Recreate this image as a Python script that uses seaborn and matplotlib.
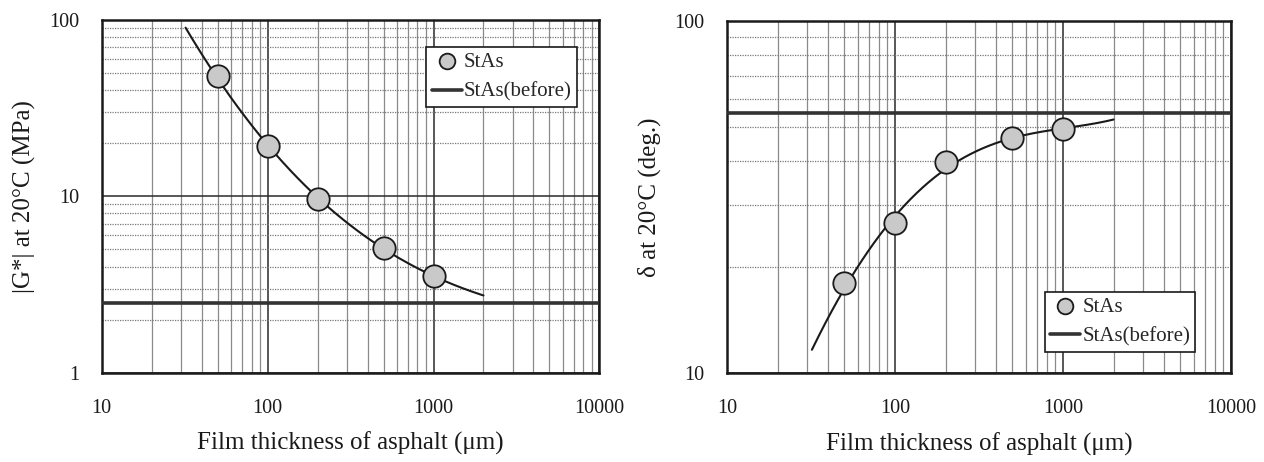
import numpy as np
import pandas as pd
import matplotlib
matplotlib.use("Agg")
import matplotlib.pyplot as plt
from matplotlib.ticker import LogLocator, FixedLocator, FixedFormatter, NullFormatter
import seaborn as sns

# Measured film thickness (um)
thickness = [50, 100, 200, 500, 1000]
# |G*| at 20 C (MPa)
g_star = [48.4, 19.3, 9.7, 5.1, 3.55]
# phase angle at 20 C (deg.)
delta = [18.0, 26.7, 39.7, 46.4, 49.3]

# Unaged reference values
g_star_before = 2.5
delta_before = 54.7

# Trend curve readings over 32-2000 um
trend_x = [32, 50, 100, 200, 500, 1000, 2000]
trend_g = [88.7, 48.4, 19.3, 9.7, 5.1, 3.55, 2.73]
trend_d = [11.5, 18.0, 26.7, 39.0, 46.4, 49.3, 52.6]

x_ticks = [10, 100, 1000, 10000]
x_labels = ["10", "100", "1000", "10000"]

sns.set_style("white")
plt.rcParams["font.family"] = ["Liberation Serif", "DejaVu Serif"]

fig = plt.figure(figsize=(12.64, 4.62), dpi=100)
ax1 = fig.add_axes([0.0805, 0.1933, 0.3937, 0.7634])
ax2 = fig.add_axes([0.5752, 0.1926, 0.3987, 0.7620])


def smooth_trend(xs, ys, deg):
    lx, ly = np.log10(xs), np.log10(ys)
    coef = np.polyfit(lx, ly, deg)
    gx = np.linspace(lx.min(), lx.max(), 200)
    return 10 ** gx, 10 ** np.polyval(coef, gx)


def style_axes(ax, ylim, yticks, ylabels):
    ax.set_xscale("log")
    ax.set_yscale("log")
    ax.set_xlim(10, 10000)
    ax.set_ylim(*ylim)
    ax.xaxis.set_major_locator(FixedLocator(x_ticks))
    ax.xaxis.set_major_formatter(FixedFormatter(x_labels))
    ax.xaxis.set_minor_locator(LogLocator(base=10, subs=np.arange(2, 10)))
    ax.xaxis.set_minor_formatter(NullFormatter())
    ax.yaxis.set_major_locator(FixedLocator(yticks))
    ax.yaxis.set_major_formatter(FixedFormatter(ylabels))
    ax.yaxis.set_minor_locator(LogLocator(base=10, subs=np.arange(2, 10)))
    ax.yaxis.set_minor_formatter(NullFormatter())
    ax.grid(which="major", color="#2a2a2a", linewidth=1.1, linestyle="-")
    ax.grid(which="minor", axis="x", color="#8a8a8a", linewidth=0.9, linestyle="-")
    ax.grid(which="minor", axis="y", color="#777777", linewidth=0.9, linestyle=(0, (1, 1)))
    ax.set_axisbelow(True)
    for s in ax.spines.values():
        s.set_visible(True)
        s.set_color("#1a1a1a")
        s.set_linewidth(1.8)
    ax.tick_params(which="both", length=0)
    ax.tick_params(axis="x", pad=19, labelsize=14.5, colors="#1a1a1a")
    ax.tick_params(axis="y", pad=16, labelsize=14.5, colors="#1a1a1a")


panels = [
    (ax1, g_star, g_star_before, trend_g, "|G*| at 20\u00b0C (MPa)", (1, 100), [1, 10, 100], ["1", "10", "100"],
     (0.955, 0.923), "upper right", 3),
    (ax2, delta, delta_before, trend_d, "\u03b4 at 20\u00b0C (deg.)", (10, 100), [10, 100], ["10", "100"],
     (0.929, 0.06), "lower right", 4),
]

for ax, vals, before, trend, ylab, ylim, yt, yl, anchor, loc, deg in panels:
    style_axes(ax, ylim, yt, yl)
    tx, ty = smooth_trend(np.array(trend_x, float), np.array(trend, float), deg)
    sns.lineplot(x=tx, y=ty, ax=ax, color="#1a1a1a", linewidth=1.5, sort=False, zorder=3)
    ax.axhline(before, color="#333333", linewidth=2.6, zorder=3, label="StAs(before)")
    df = pd.DataFrame({"x": thickness, "y": vals})
    sns.scatterplot(data=df, x="x", y="y", ax=ax, s=260, color="#c9c9c9", edgecolor="#1a1a1a",
                    linewidth=1.3, zorder=4, label="StAs")
    ax.set_ylabel(ylab, fontsize=18, labelpad=10, color="#1a1a1a")
    ax.set_xlabel("Film thickness of asphalt (\u03bcm)", fontsize=18, labelpad=10, color="#1a1a1a")
    h, l = ax.get_legend_handles_labels()
    order = [l.index("StAs"), l.index("StAs(before)")]
    leg = ax.legend([h[i] for i in order], [l[i] for i in order], loc=loc, bbox_to_anchor=anchor,
                    borderaxespad=0, fontsize=15, frameon=True, fancybox=False, shadow=False,
                    framealpha=1, edgecolor="#1a1a1a", handlelength=1.45, handletextpad=0.1,
                    borderpad=0.25, labelspacing=0.5, markerscale=0.7)
    leg.get_frame().set_linewidth(1.2)

fig.savefig("out.png", dpi=100, facecolor="white")
